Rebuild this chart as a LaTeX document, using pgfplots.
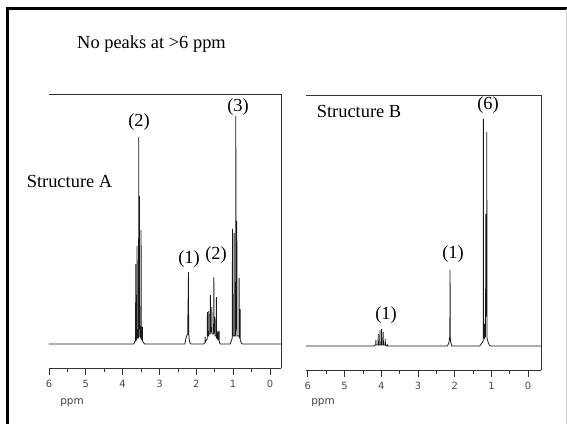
\documentclass[border=0pt]{standalone}
\usepackage{pgfplots}
\pgfplotsset{compat=1.18}
\usepackage{fontspec}
\setmainfont{Liberation Serif}
\newfontfamily\tickfont{DejaVu Sans}

% spectra: ppm, height above baseline (px)
\pgfplotstableread{
x y
6.00 0
3.70 0
3.66 3
3.650 3
3.644 80
3.638 4
3.615 4
3.609 98
3.600 6
3.568 6
3.563 207
3.554 20
3.546 148
3.538 8
3.505 6
3.500 114
3.493 5
3.470 4
3.465 17
3.458 3
3.43 1
3.40 0
2.31 0
2.28 6
2.25 9
2.232 10
2.225 45
2.219 25
2.214 72
2.207 10
2.19 4
2.17 1
2.14 0
1.80 0
1.775 1
1.766 1
1.761 7
1.756 2
1.74 3
1.703 5
1.698 32
1.692 8
1.665 8
1.660 33
1.654 10
1.622 10
1.617 49
1.611 12
1.584 12
1.579 37
1.573 10
1.530 10
1.524 67
1.518 12
1.502 12
1.497 27
1.491 8
1.460 8
1.454 47
1.448 6
1.421 5
1.416 13
1.410 4
1.385 4
1.380 13
1.374 2
1.35 0
1.08 0
1.04 4
1.024 6
1.018 115
1.012 8
0.978 8
0.973 111
0.967 8
0.933 8
0.927 228
0.921 15
0.905 15
0.900 123
0.894 8
0.842 8
0.837 66
0.831 6
0.815 6
0.810 35
0.804 4
0.78 1
0.75 0
-0.30 0
}\specA

\pgfplotstableread{
x y
6.05 0
4.20 0
4.16 1
4.151 1
4.146 6
4.141 1
4.088 1
4.083 12
4.078 1
4.041 1
4.036 16
4.031 1
3.995 1
3.990 17
3.985 1
3.952 1
3.947 14
3.942 1
3.897 1
3.892 7
3.887 1
3.842 0
3.837 2
3.832 0
3.80 0
2.20 0
2.16 3
2.14 8
2.133 9
2.127 76
2.121 9
2.11 4
2.08 0
1.32 0
1.28 2
1.24 4
1.225 5
1.219 227
1.213 8
1.196 8
1.190 22
1.184 8
1.160 10
1.154 132
1.148 30
1.133 30
1.127 214
1.121 8
1.10 5
1.06 1
1.02 0
-0.35 0
}\specB

\pgfplotsset{
  nmr/.style={
    scale only axis,
    x dir=reverse,
    axis x line*=bottom,
    axis y line=none,
    axis line style={-, black!80, line width=0.8bp},
    xtick={0,1,2,3,4,5,6},
    minor x tick num=1,
    ytick=\empty,
    tick align=outside,
    major tick length=7bp,
    minor tick length=4bp,
    every tick/.style={black!80, line width=0.7bp},
    /pgf/number format/assume math mode=true,
    xticklabel style={font=\tickfont\fontsize{10}{11}\selectfont, text=black!70, yshift=-2bp},
    clip=false,
  },
}

\begin{document}
\begin{tikzpicture}[x=1bp,y=1bp]
\path[use as bounding box] (0,0) rectangle (567,424);

% outer frame
\draw[line width=3bp] (5.7,415.5) -- (567,415.5);
\draw[line width=3bp] (7.2,417) -- (7.2,0);
\draw[black!20, line width=1bp] (566,415) -- (566,0);

\node[font=\fontsize{18.5}{20}\selectfont] at (151.5,380) {No peaks at >6 ppm};

% Structure A
\begin{axis}[nmr,
  at={(49bp,56bp)}, anchor=south west,
  width=232bp, height=274bp,
  xmin=-0.3, xmax=6, ymin=-24, ymax=250]
\addplot[black!90, line width=0.8bp] table {\specA};
\draw[black!80, line width=0.8bp] (axis description cs:0,1) -- (axis description cs:1,1) -- (axis description cs:1,0);
\end{axis}

% Structure B
\begin{axis}[nmr,
  at={(306bp,54bp)}, anchor=south west,
  width=235bp, height=275bp,
  xmin=-0.35, xmax=6.05, ymin=-24, ymax=251]
\addplot[black!90, line width=0.8bp] table {\specB};
\draw[black!80, line width=0.8bp] (axis description cs:0,1) -- (axis description cs:1,1) -- (axis description cs:1,0);
\end{axis}

\begin{scope}[every node/.style={font=\fontsize{18.5}{20}\selectfont}]
\node at (69.5,242.5) {Structure A};
\node at (139,301.5) {(2)};
\node at (238,316.5) {(3)};
\node at (189,164.5) {(1)};
\node at (216,168.5) {(2)};
\node at (359,312.5) {Structure B};
\node at (488,318.5) {(6)};
\node at (453,169.5) {(1)};
\node at (386,108.5) {(1)};
\end{scope}

\node[font=\tickfont\fontsize{10.5}{11}\selectfont, text=black!75] at (72,21) {ppm};
\node[font=\tickfont\fontsize{10.5}{11}\selectfont, text=black!75] at (323,21) {ppm};
\end{tikzpicture}
\end{document}
